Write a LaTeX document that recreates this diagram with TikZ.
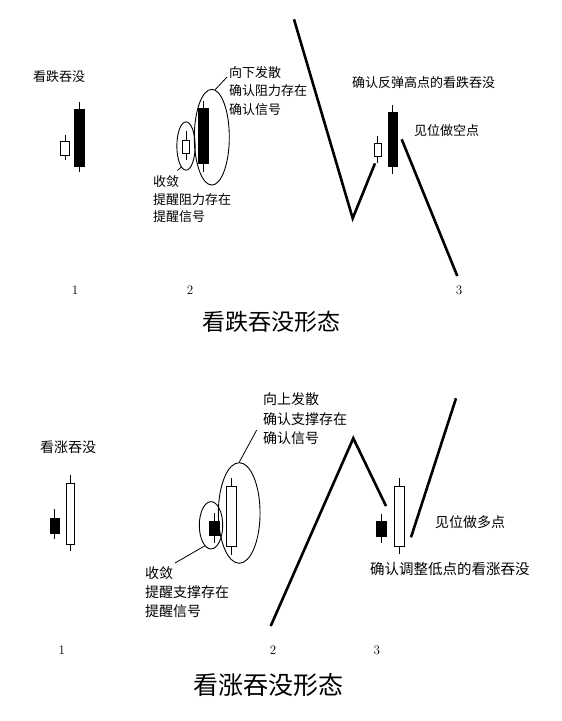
\documentclass[tikz,border=0pt]{standalone}
\usepackage{fontspec}
\newfontfamily\cjkfont{Noto Sans CJK SC}
\usetikzlibrary{shapes.geometric}

\tikzset{
  bullbody/.style={draw, fill=white, line width=0.8pt, inner sep=0pt},
  bearbody/.style={draw, fill=black, line width=0.8pt, inner sep=0pt},
  wick/.style={line width=0.8pt},
  trend/.style={line width=2.6pt},
  ring/.style={draw, ellipse, line width=0.9pt, inner sep=0pt},
  leader/.style={line width=0.8pt},
  notetop/.style={font=\cjkfont\fontsize{13}{18.5}\selectfont, anchor=west, align=left, inner sep=0pt},
  notebot/.style={font=\cjkfont\fontsize{14}{19.5}\selectfont, anchor=west, align=left, inner sep=0pt},
  numlabel/.style={font=\fontsize{13}{15}\selectfont, inner sep=0pt},
}

\begin{document}
\begin{tikzpicture}[x=1pt, y=-1pt]
    \useasboundingbox (0,0) rectangle (562,721);

    % ===== Pannello superiore: engulfing ribassista =====
    % Caso 1
    \node[notetop] (tlab1) at (33,77) {看跌吞没};
    \node[bullbody, minimum width=8.6, minimum height=13.3] (tbull1) at (65,148.4) {};
    \draw[wick] (tbull1.north) -- ++(0,-6.7) (tbull1.south) -- ++(0,5);
    \node[bearbody, minimum width=9.3, minimum height=57.4] (tbear1) at (79.5,138) {};
    \draw[wick] (tbear1.north) -- ++(0,-6.6) (tbear1.south) -- ++(0,5);

    % Caso 2 con ellissi
    \node[bullbody, minimum width=6.6, minimum height=13.3] (tbull2) at (186,146.7) {};
    \draw[wick] (tbull2.north) -- ++(0,-8.3) (tbull2.south) -- ++(0,6.7);
    \node[bearbody, minimum width=10, minimum height=55] (tbear2) at (203.3,135.8) {};
    \draw[wick] (tbear2.north) -- ++(0,-6.6) (tbear2.south) -- ++(0,8.4);
    \node[ring, minimum width=18.3, minimum height=48.3] (tsmall) at (186,146) {};
    \node[ring, minimum width=35, minimum height=95.7] (tbig) at (211.8,137.2) {};
    \node[notetop] (tnoteA) at (229,91) {向下发散\\确认阻力存在\\确认信号};
    \coordinate (ttipA) at (227,77);
    \draw[leader] (tbig.86) -- (ttipA);
    \node[notetop, font=\cjkfont\fontsize{13}{17.5}\selectfont] (tnoteB) at (153,199.5) {收敛\\提醒阻力存在\\提醒信号};
    \coordinate (ttipB) at (177.5,170.5);
    \draw[leader] (tsmall.257) -- (ttipB);

    % Caso 3: rimbalzo e ripresa del ribasso
    \draw[trend] (294,19.3) -- (352.7,218.3) -- (375,163.3);
    \draw[trend] (401.7,139.3) -- (457.3,276);
    \node[bullbody, minimum width=7, minimum height=13.4] (tbull3) at (377.5,150) {};
    \draw[wick] (tbull3.north) -- ++(0,-7.3) (tbull3.south) -- ++(0,6);
    \node[bearbody, minimum width=9, minimum height=53.3] (tbear3) at (392.8,139.4) {};
    \draw[wick] (tbear3.north) -- ++(0,-7.7) (tbear3.south) -- ++(0,8);
    \node[notetop] (tlab3) at (352,83) {确认反弹高点的看跌吞没};
    \node[notetop] (tlab4) at (414,131) {见位做空点};

    % Numeri e titolo
    \node[numlabel] (tn1) at (75,290) {1};
    \node[numlabel] (tn2) at (190,290) {2};
    \node[numlabel] (tn3) at (459,290) {3};
    \node[font=\cjkfont\fontsize{23}{26}\selectfont, inner sep=0pt] (ttitle) at (271,322) {看跌吞没形态};

    % ===== Pannello inferiore: engulfing rialzista =====
    % Caso 1
    \node[notebot] (blab1) at (40,447) {看涨吞没};
    \node[bearbody, minimum width=9.3, minimum height=15] (bbear1) at (54.7,525.8) {};
    \draw[wick] (bbear1.north) -- ++(0,-9) (bbear1.south) -- ++(0,5);
    \node[bullbody, minimum width=8.3, minimum height=60.7] (bbull1) at (70.2,513.7) {};
    \draw[wick] (bbull1.north) -- ++(0,-8.3) (bbull1.south) -- ++(0,6.7);

    % Caso 2 con ellissi
    \node[bearbody, minimum width=10.3, minimum height=14] (bbear2) at (214.2,528.7) {};
    \draw[wick] (bbear2.north) -- ++(0,-8.4) (bbear2.south) -- ++(0,7);
    \node[bullbody, minimum width=10, minimum height=60] (bbull2) at (231,516.7) {};
    \draw[wick] (bbull2.north) -- ++(0,-8.4) (bbull2.south) -- ++(0,8.3);
    \node[ring, minimum width=23.4, minimum height=47.3] (bsmall) at (211,525.3) {};
    \node[ring, minimum width=41.7, minimum height=100.6] (bbig) at (239.2,513) {};
    \node[notebot] (bnoteA) at (263,419) {向上发散\\确认支撑存在\\确认信号};
    \coordinate (btipA) at (256.7,430);
    \draw[leader] (bbig.north) -- (btipA);
    \node[notebot, font=\cjkfont\fontsize{14}{19}\selectfont] (bnoteB) at (145,592) {收敛\\提醒支撑存在\\提醒信号};
    \coordinate (btipB) at (175,563);
    \draw[leader] (bsmall.253) -- (btipB);

    % Caso 3: correzione e ripresa del rialzo
    \draw[trend] (270.7,626) -- (353.3,438.3) -- (386,506);
    \draw[trend] (411,537.3) -- (456,398.3);
    \node[bearbody, minimum width=10, minimum height=15] (bbear3) at (381.7,529.2) {};
    \draw[wick] (bbear3.north) -- ++(0,-7.7) (bbear3.south) -- ++(0,6);
    \node[bullbody, minimum width=9.7, minimum height=60] (bbull3) at (399.2,516.7) {};
    \draw[wick] (bbull3.north) -- ++(0,-8.4) (bbull3.south) -- ++(0,7.3);
    \node[notebot] (blab4) at (435,522) {见位做多点};
    \node[notebot, font=\cjkfont\fontsize{14.5}{17}\selectfont] (blab3) at (370,569) {确认调整低点的看涨吞没};

    % Numeri e titolo
    \node[numlabel] (bn1) at (61.7,650) {1};
    \node[numlabel] (bn2) at (273,650) {2};
    \node[numlabel] (bn3) at (376.7,650) {3};
    \node[font=\cjkfont\fontsize{25}{28}\selectfont, inner sep=0pt] (btitle) at (268,685) {看涨吞没形态};
\end{tikzpicture}
\end{document}
